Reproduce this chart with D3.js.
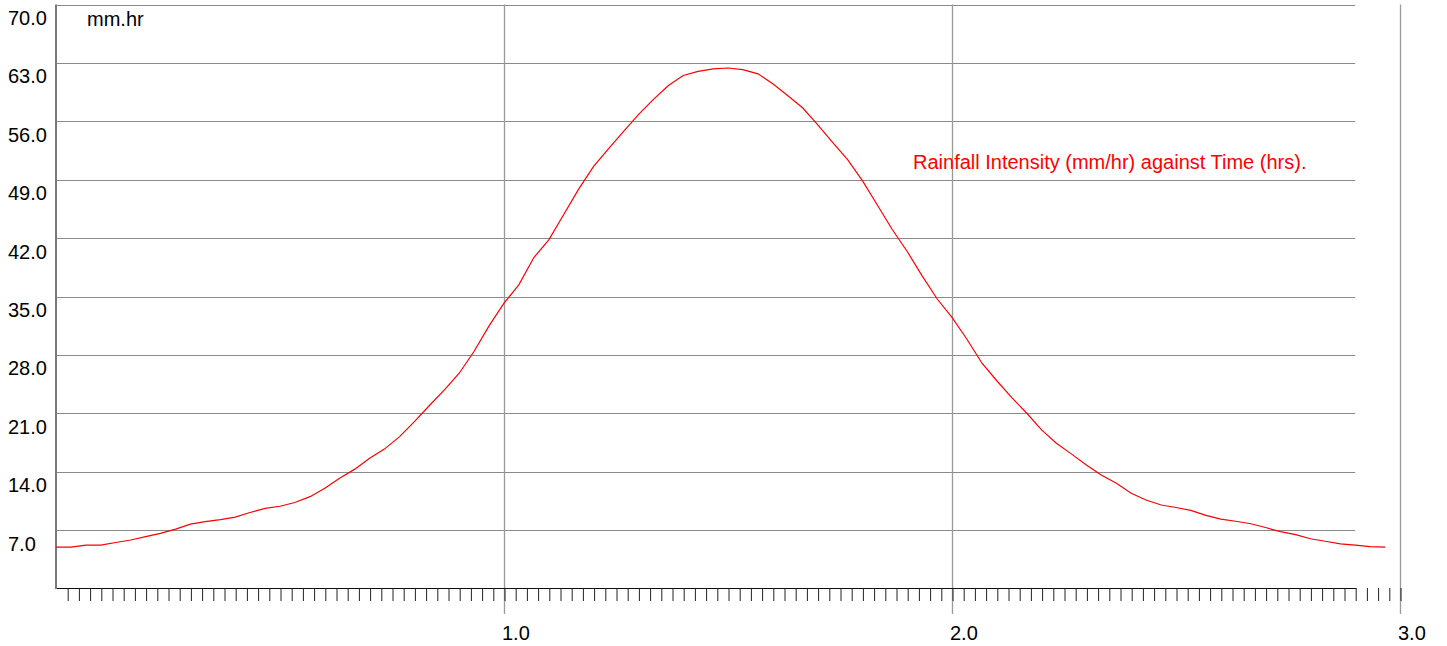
<!DOCTYPE html>
<html>
<head>
<meta charset="utf-8">
<script src="https://cdn.jsdelivr.net/npm/d3@7"></script>
<style>
  body { margin: 0; background: white; }
  svg text { font-family: "Liberation Sans", Arial, sans-serif; }
</style>
</head>
<body>
<div id="canvas"></div>
<script>
"use strict"

let drawingWidth = 1447;
let drawingHeight = 646;

// time in hours, intensity in mm/hr
let times = [0.000, 0.033, 0.067, 0.100, 0.133, 0.167, 0.200, 0.233, 0.267, 0.300,
             0.333, 0.367, 0.400, 0.433, 0.467, 0.500, 0.533, 0.567, 0.600, 0.633,
             0.667, 0.700, 0.733, 0.767, 0.800, 0.833, 0.867, 0.900, 0.933, 0.967,
             1.000, 1.033, 1.067, 1.100, 1.133, 1.167, 1.200, 1.233, 1.267, 1.300,
             1.333, 1.367, 1.400, 1.433, 1.467, 1.500, 1.533, 1.567, 1.600, 1.633,
             1.667, 1.700, 1.733, 1.767, 1.800, 1.833, 1.867, 1.900, 1.933, 1.967,
             2.000, 2.033, 2.067, 2.100, 2.133, 2.167, 2.200, 2.233, 2.267, 2.300,
             2.333, 2.367, 2.400, 2.433, 2.467, 2.500, 2.533, 2.567, 2.600, 2.633,
             2.667, 2.700, 2.733, 2.767, 2.800, 2.833, 2.867, 2.900, 2.933, 2.967];
let intensity = [4.96, 4.96, 5.2, 5.2, 5.5, 5.8, 6.2, 6.6, 7.1, 7.7,
                 8.0, 8.25, 8.55, 9.1, 9.6, 9.85, 10.3, 11.0, 12.0, 13.2,
                 14.3, 15.6, 16.7, 18.2, 20.0, 21.9, 23.8, 25.8, 28.4, 31.5,
                 34.2, 36.4, 39.7, 41.8, 44.8, 47.9, 50.6, 52.7, 54.8, 56.8,
                 58.6, 60.3, 61.5, 62.0, 62.3, 62.4, 62.2, 61.7, 60.5, 59.1,
                 57.6, 55.6, 53.5, 51.4, 48.9, 46.0, 43.0, 40.4, 37.5, 34.7,
                 32.5, 29.9, 27.0, 24.9, 22.9, 21.0, 19.0, 17.4, 16.1, 14.8,
                 13.6, 12.6, 11.4, 10.6, 10.0, 9.7, 9.35, 8.75, 8.3, 8.05,
                 7.75, 7.3, 6.8, 6.45, 5.95, 5.65, 5.35, 5.2, 5.0, 4.96];

let yTicks = [7, 14, 21, 28, 35, 42, 49, 56, 63, 70];
let xMajor = [1, 2, 3];
let minorTicks = d3.range(1, 121).map(i => i * 0.025);
let gridEnd = 2.9;

let yUnit = "mm.hr";
let title = "Rainfall Intensity (mm/hr) against Time (hrs).";

let x = d3.scaleLinear().domain([0, 3]).range([56, 1400]);
let y = d3.scaleLinear().domain([0, 70]).range([588.4, 4.6]);

let drawing = d3.select("#canvas")
    .append("svg")
    .attr("width", drawingWidth)
    .attr("height", drawingHeight);

drawing.append("rect")
    .attr("width", drawingWidth)
    .attr("height", drawingHeight)
    .attr("fill", "white");

// horizontal grid
drawing.append("g")
    .selectAll("line")
    .data(yTicks)
    .join("line")
    .attr("x1", x(0))
    .attr("x2", x(gridEnd))
    .attr("y1", d => Math.round(y(d)) + 0.5)
    .attr("y2", d => Math.round(y(d)) + 0.5)
    .attr("stroke", "#8a8a8a")
    .attr("stroke-width", 1.2);

// y labels sit just under their grid line
drawing.append("g")
    .selectAll("text")
    .data(yTicks)
    .join("text")
    .attr("x", 8)
    .attr("y", d => y(d) + 20.5)
    .attr("font-size", 20)
    .attr("fill", "black")
    .text(d => d3.format(".1f")(d));

// vertical grid
drawing.append("g")
    .selectAll("line")
    .data(xMajor)
    .join("line")
    .attr("x1", d => Math.round(x(d)) + 0.5)
    .attr("x2", d => Math.round(x(d)) + 0.5)
    .attr("y1", y(70))
    .attr("y2", 614)
    .attr("stroke", "#9a9a9a")
    .attr("stroke-width", 1.3);

// minor ticks along the bottom
let xAxis = drawing.append("g")
    .attr("transform", "translate(0.5," + 588 + ")")
    .call(d3.axisBottom(x).tickValues(minorTicks).tickFormat("").tickSize(13).tickSizeOuter(0));
xAxis.select(".domain").remove();
xAxis.selectAll(".tick line").attr("stroke", "#222");

drawing.append("line")
    .attr("x1", x(0))
    .attr("x2", x(gridEnd) + 1)
    .attr("y1", 588.5)
    .attr("y2", 588.5)
    .attr("stroke", "#111")
    .attr("stroke-width", 1.2);

// left axis
drawing.append("line")
    .attr("x1", 56)
    .attr("x2", 56)
    .attr("y1", y(70))
    .attr("y2", 589)
    .attr("stroke", "#7a7a7a")
    .attr("stroke-width", 2);

drawing.append("g")
    .selectAll("text")
    .data(xMajor)
    .join("text")
    .attr("x", d => x(d) - 2)
    .attr("y", 640)
    .attr("font-size", 20)
    .attr("fill", "black")
    .text(d => d3.format(".1f")(d));

let rain = d3.line()
    .x((d, i) => x(times[i]))
    .y(d => y(d));

drawing.append("path")
    .datum(intensity)
    .attr("d", rain)
    .attr("fill", "none")
    .attr("stroke", "red")
    .attr("stroke-width", 1.2);

drawing.append("text")
    .attr("x", 87)
    .attr("y", 26)
    .attr("font-size", 20)
    .attr("fill", "black")
    .text(yUnit);

drawing.append("text")
    .attr("x", 913)
    .attr("y", 169)
    .attr("font-size", 20)
    .attr("fill", "red")
    .text(title);
</script>
</body>
</html>
